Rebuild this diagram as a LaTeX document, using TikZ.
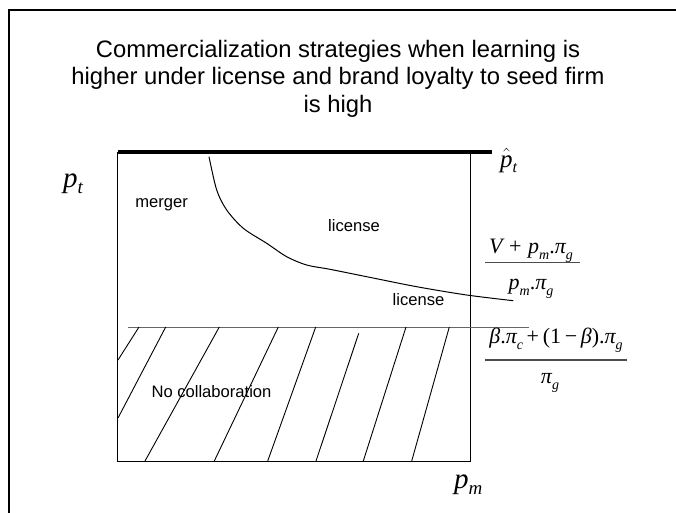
\documentclass[tikz,border=0pt]{standalone}
\usepackage{fontspec}
\setmainfont{Liberation Serif}
\setsansfont{Liberation Sans}
\newcommand\sbs[1]{\raisebox{-0.28em}{\fontsize{14}{16}\selectfont\itshape #1}}
\newcommand\bsub[1]{\raisebox{-0.22em}{\fontsize{19}{21}\selectfont\itshape #1}}
\begin{document}
\begin{tikzpicture}[x=1pt,y=-1pt,
  thinline/.style={line width=1pt},
  hatchline/.style={line width=0.9pt},
  lbl/.style={font=\sffamily\fontsize{16.6}{19}\selectfont, inner sep=0pt},
  ttl/.style={font=\sffamily\fontsize{23.8}{27.5}\selectfont, inner sep=0pt, anchor=base},
  bigm/.style={font=\fontsize{29}{32}\selectfont, inner sep=0pt, anchor=base west},
  hatm/.style={font=\fontsize{25}{28}\selectfont, inner sep=0pt, anchor=base west},
  frm/.style={font=\fontsize{22}{26}\selectfont, inner sep=0pt, anchor=base},
  fracline/.style={line width=1.2pt, black!70}]
\useasboundingbox (0,0) rectangle (676,512);
\fill[white] (0,0) rectangle (676,512);
% outer frame (only left and top edges visible)
\draw[line width=2pt] (9,513) -- (9,10) -- (677,10);
% title
\node[ttl] (t1) at (338,57) {Commercialization strategies when learning is};
\node[ttl] (t2) at (338,84.5) {higher under license and brand loyalty to seed firm};
\node[ttl] (t3) at (338,112) {is high};
% inner box
\coordinate (tl) at (117.5,152);
\coordinate (tr) at (470.7,152);
\coordinate (bl) at (117.5,461);
\coordinate (br) at (470.7,461);
\coordinate (thickend) at (491.7,152);
\draw[thinline] (tl) -- (bl) -- (br) -- (tr);
\draw[line width=4pt] (tl) -- (thickend);
% lower threshold line
\coordinate (hl) at (128,327.3);
\coordinate (hr) at (529,327.3);
\draw[line width=1pt, black!60] (hl) -- (hr);
% hatching
\draw[hatchline] (139,327) -- (118,360);
\draw[hatchline] (165.7,327) -- (118,418);
\draw[hatchline] (219.3,327) -- (145,461);
\draw[hatchline] (278.3,327) -- (214.3,461);
\draw[hatchline] (315.7,327) -- (267.7,461);
\draw[hatchline] (358.7,333.3) -- (316,461);
\draw[hatchline] (406,327) -- (363.3,461);
\draw[hatchline] (449.3,327) -- (411.7,461);
% curve
\draw[thinline] plot[smooth, tension=0.5] coordinates {(209,156.7) (216.7,190) (226.7,210) (243.3,228.3) (266.7,243.3) (286.7,256.7) (306.7,265) (330,269.3) (366.7,276.7) (416.7,286.7) (466.7,295) (513.3,300.7)};
% region labels
\node[lbl] (merger) at (161.7,205) {merger};
\node[lbl] (lic1) at (354,226) {license};
\node[lbl] (lic2) at (418.5,300) {license};
\node[lbl] (nocol) at (211.5,391.7) {No collaboration};
% axis labels
\node[bigm] (pt) at (63,187) {\itshape p\bsub{t}};
\node[hatm] (phat) at (500,167) {$\hat{\hbox{\itshape p}}$\raisebox{-0.22em}{\fontsize{16}{18}\selectfont\itshape t}};
\node[bigm] (pm) at (454,488) {\itshape p\bsub{m}};
% fraction 1
\node[frm] (n1) at (531,253) {\itshape V\hspace{0.3em}\upshape+\hspace{0.3em}\itshape p\sbs{m}\upshape.\itshape π\sbs{g}};
\node[frm] (d1) at (531,289) {\itshape p\sbs{m}\upshape.\itshape π\sbs{g}};
\coordinate (f1l) at (485,262.3);
\coordinate (f1r) at (580,262.3);
\draw[fracline] (f1l) -- (f1r);
% fraction 2
\node[frm] (n2) at (556,343) {\itshape β\upshape.\itshape π\sbs{c}\upshape\,+\,(1\,−\,\itshape β\upshape).\itshape π\sbs{g}};
\node[frm] (d2) at (550,383) {\itshape π\sbs{g}};
\coordinate (f2l) at (485,360);
\coordinate (f2r) at (627,360);
\draw[fracline] (f2l) -- (f2r);
\end{tikzpicture}
\end{document}
